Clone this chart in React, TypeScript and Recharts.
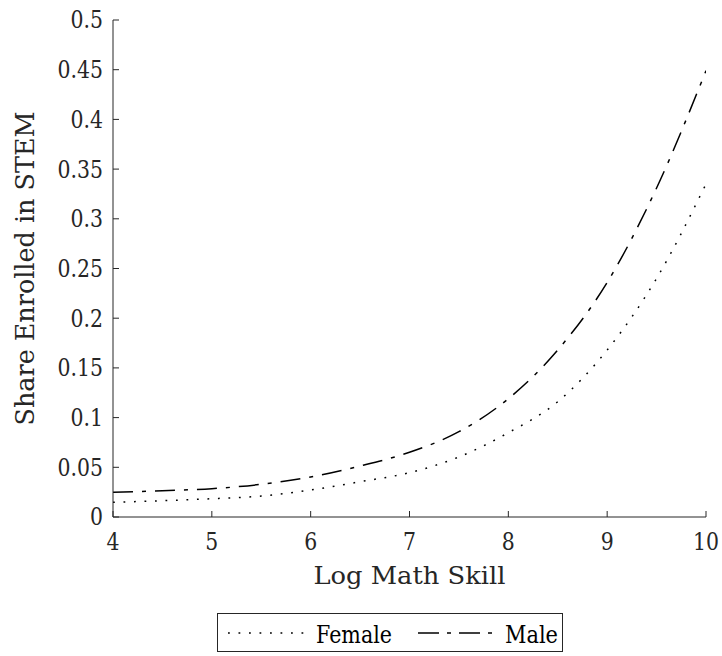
import React from 'react';
import { LineChart, Line, XAxis, YAxis, Label } from 'recharts';

const xValues = [4, 4.5, 5, 5.5, 6, 6.5, 7, 7.5, 8, 8.5, 9, 9.5, 10];
const femaleValues = [0.0148, 0.0164, 0.0184, 0.0211, 0.0272, 0.0355, 0.0446, 0.0604, 0.0848, 0.116, 0.168, 0.24, 0.335];
const maleValues = [0.0248, 0.0265, 0.0285, 0.0329, 0.0402, 0.0513, 0.0651, 0.0858, 0.119, 0.168, 0.236, 0.331, 0.449];
const seriesNames = ['Female', 'Male'];
const xTicks = [4, 5, 6, 7, 8, 9, 10];
const yTicks = [0, 0.05, 0.1, 0.15, 0.2, 0.25, 0.3, 0.35, 0.4, 0.45, 0.5];
const yTickLabels = ['0', '0.05', '0.1', '0.15', '0.2', '0.25', '0.3', '0.35', '0.4', '0.45', '0.5'];
const xLabel = 'Log Math Skill';
const yLabel = 'Share Enrolled in STEM';

const data = xValues.map((x, i) => ({ x, female: femaleValues[i], male: maleValues[i] }));

const FONT = 'DejaVu Serif';
const INK = '#262626';
const FEMALE_DASH = '1.8 8.7';
const MALE_DASH = '20 9 4 9';

// approximate Times-like advance width for numeric labels (style only)
const tickTextLength = (s: string) => {
  let em = 0;
  for (const ch of s) em += ch === '.' ? 0.25 : 0.5;
  return em * 26;
};

const XTick = (props: any) => {
  const { x, y, payload } = props;
  const s = String(payload.value);
  return (
    <g>
      <line x1={x} x2={x} y1={y} y2={y - 6} stroke={INK} strokeWidth={1} />
      <text
        x={x}
        y={y + 33}
        textAnchor="middle"
        fontFamily={FONT}
        fontSize={24}
        fill={INK}
        textLength={tickTextLength(s)}
        lengthAdjust="spacingAndGlyphs"
      >
        {s}
      </text>
    </g>
  );
};

const YTick = (props: any) => {
  const { x, y, payload } = props;
  const idx = yTicks.indexOf(payload.value);
  const label = idx >= 0 ? yTickLabels[idx] : String(payload.value);
  return (
    <g>
      <line x1={x} x2={x + 6} y1={y} y2={y} stroke={INK} strokeWidth={1} />
      <text
        x={x - 10}
        y={y}
        dy="0.35em"
        textAnchor="end"
        fontFamily={FONT}
        fontSize={24}
        fill={INK}
        textLength={tickTextLength(label)}
        lengthAdjust="spacingAndGlyphs"
      >
        {label}
      </text>
    </g>
  );
};

const XLabelContent = (props: any) => {
  const vb = props.viewBox || { x: 113, y: 517, width: 593, height: 139 };
  return (
    <text
      x={vb.x + vb.width / 2}
      y={vb.y + 67}
      textAnchor="middle"
      fontFamily={FONT}
      fontSize={24}
      fill={INK}
      textLength={192}
      lengthAdjust="spacingAndGlyphs"
    >
      {xLabel}
    </text>
  );
};

const YLabelContent = (props: any) => {
  const vb = props.viewBox || { x: 0, y: 20, width: 113, height: 497 };
  const cx = 34;
  const cy = vb.y + vb.height / 2;
  return (
    <text
      x={cx}
      y={cy}
      transform={`rotate(-90, ${cx}, ${cy})`}
      textAnchor="middle"
      fontFamily={FONT}
      fontSize={26}
      fill={INK}
      textLength={314}
      lengthAdjust="spacingAndGlyphs"
    >
      {yLabel}
    </text>
  );
};

export default function App() {
  return (
    <div style={{ position: 'absolute', left: 0, top: 0, width: 722, height: 656, background: '#fff' }}>
      <LineChart width={722} height={656} data={data} margin={{ top: 20, right: 16, left: 0, bottom: 0 }}>
        <XAxis
          dataKey="x"
          type="number"
          domain={[4, 10]}
          ticks={xTicks}
          interval={0}
          height={139}
          tickLine={false}
          tickSize={0}
          tickMargin={0}
          tick={<XTick />}
          axisLine={{ stroke: INK, strokeWidth: 1 }}
          allowDataOverflow
        >
          <Label content={<XLabelContent />} />
        </XAxis>
        <YAxis
          type="number"
          domain={[0, 0.5]}
          ticks={yTicks}
          interval={0}
          width={113}
          tickLine={false}
          tickSize={0}
          tickMargin={0}
          tick={<YTick />}
          axisLine={{ stroke: INK, strokeWidth: 1 }}
          allowDataOverflow
        >
          <Label content={<YLabelContent />} />
        </YAxis>
        <Line
          type="monotone"
          dataKey="female"
          name={seriesNames[0]}
          stroke="#000"
          strokeWidth={1.5}
          strokeDasharray={FEMALE_DASH}
          dot={false}
          activeDot={false}
          isAnimationActive={false}
        />
        <Line
          type="monotone"
          dataKey="male"
          name={seriesNames[1]}
          stroke="#000"
          strokeWidth={1.5}
          strokeDasharray={MALE_DASH}
          dot={false}
          activeDot={false}
          isAnimationActive={false}
        />
      </LineChart>
      <svg
        width={722}
        height={656}
        style={{ position: 'absolute', left: 0, top: 0, pointerEvents: 'none' }}
      >
        <rect x={217.5} y={613.5} width={345} height={38} fill="#fff" stroke={INK} strokeWidth={1} />
        <line x1={228} x2={305} y1={633} y2={633} stroke="#000" strokeWidth={1.4} strokeDasharray={FEMALE_DASH} />
        <text x={316} y={643} fontFamily={FONT} fontSize={24} fill="#000" textLength={76} lengthAdjust="spacingAndGlyphs">
          {seriesNames[0]}
        </text>
        <line x1={418} x2={495} y1={633} y2={633} stroke="#000" strokeWidth={1.4} strokeDasharray="21 8 4 8" />
        <text x={505} y={643} fontFamily={FONT} fontSize={24} fill="#000" textLength={53} lengthAdjust="spacingAndGlyphs">
          {seriesNames[1]}
        </text>
      </svg>
    </div>
  );
}
